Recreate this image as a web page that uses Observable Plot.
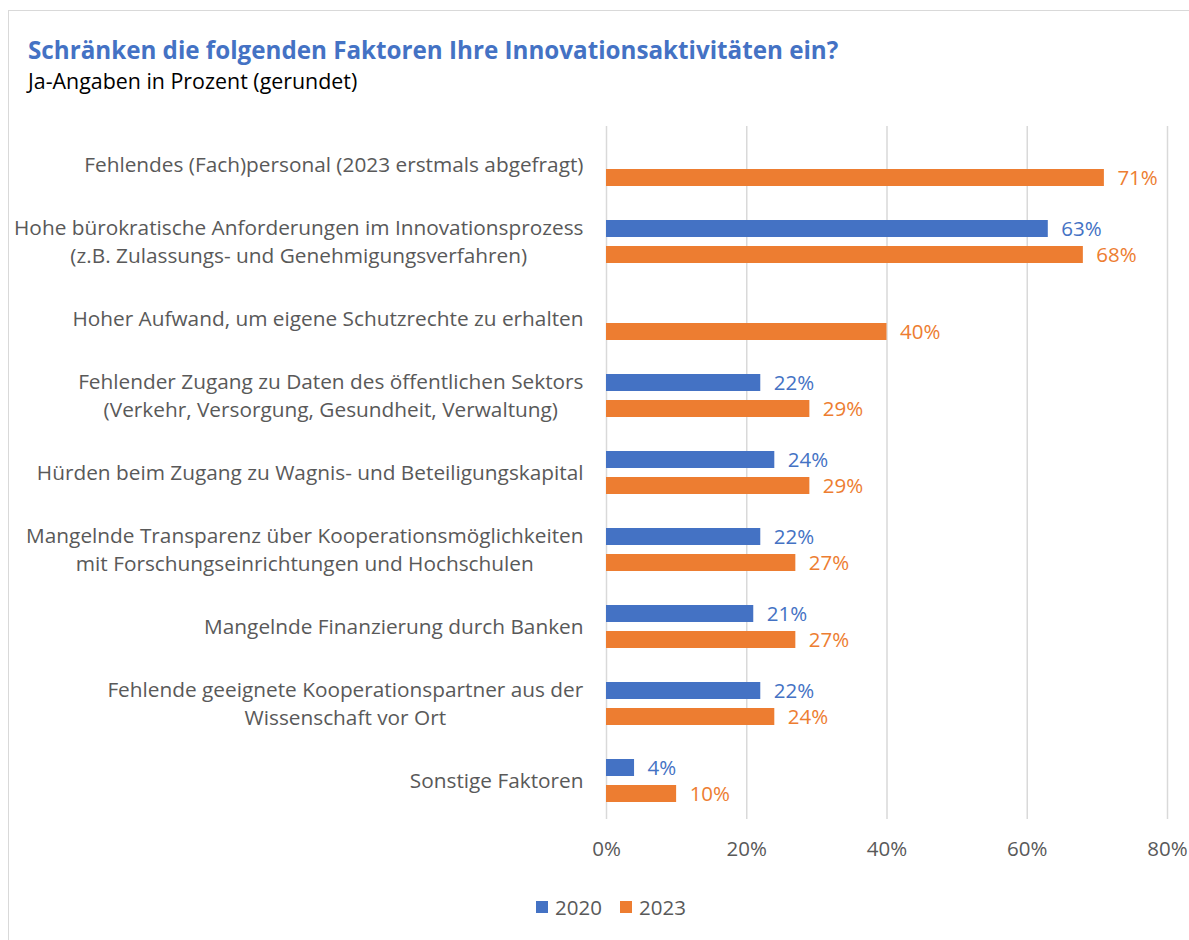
<!DOCTYPE html>
<html>
<head>
<meta charset="utf-8">
<script src="https://cdn.jsdelivr.net/npm/d3@7"></script>
<script src="https://cdn.jsdelivr.net/npm/@observablehq/plot@0.6"></script>
<style>
  html, body { margin: 0; padding: 0; background: #fff; }
  body { width: 1189px; height: 940px; position: relative; overflow: hidden; font-family: "Open Sans", Lato, sans-serif; }
  #frame { position: absolute; left: 8px; top: 10px; width: 1190px; height: 940px; border: 1.5px solid #d9d9d9; box-sizing: border-box; }
  #title { position: absolute; left: 28px; top: 33px; font-size: 24.2px; font-weight: bold; color: #4472C4; white-space: nowrap; }
  #subtitle { position: absolute; left: 28px; top: 66px; font-size: 21.4px; color: #000; white-space: nowrap; }
  #chart { position: absolute; left: 0; top: 110px; }
  #legend { position: absolute; left: 0; width: 1222px; top: 893px; display: flex; justify-content: center; gap: 18px; font-size: 20.5px; color: #595959; }
  #legend span.item { display: inline-flex; align-items: center; gap: 7px; }
  #legend span.sw { display: inline-block; width: 12px; height: 12px; }
</style>
</head>
<body>
<div id="frame"></div>
<div id="title">Schränken die folgenden Faktoren Ihre Innovationsaktivitäten ein?</div>
<div id="subtitle">Ja-Angaben in Prozent (gerundet)</div>
<div id="chart"></div>
<div id="legend"></div>
<script>
const categories = [
  "Fehlendes (Fach)personal (2023 erstmals abgefragt)",
  "Hohe bürokratische Anforderungen im Innovationsprozess\n(z.B. Zulassungs- und Genehmigungsverfahren)",
  "Hoher Aufwand, um eigene Schutzrechte zu erhalten",
  "Fehlender Zugang zu Daten des öffentlichen Sektors\n(Verkehr, Versorgung, Gesundheit, Verwaltung)",
  "Hürden beim Zugang zu Wagnis- und Beteiligungskapital",
  "Mangelnde Transparenz über Kooperationsmöglichkeiten\nmit Forschungseinrichtungen und Hochschulen",
  "Mangelnde Finanzierung durch Banken",
  "Fehlende geeignete Kooperationspartner aus der\nWissenschaft vor Ort",
  "Sonstige Faktoren"
];
const years = ["2020", "2023"];
const values2020 = [null, 63, null, 22, 24, 22, 21, 22, 4];
const values2023 = [71, 68, 40, 29, 29, 27, 27, 24, 10];
const colors = ["#4472C4", "#ED7D31"];
const xTicks = [0, 20, 40, 60, 80];

const data = [];
categories.forEach((c, i) => {
  if (values2020[i] != null) data.push({category: c, year: "2020", value: values2020[i]});
  if (values2023[i] != null) data.push({category: c, year: "2023", value: values2023[i]});
});

const textColor = "#595959";
const fs = 20.5;
const svg = Plot.plot({
  width: 1189,
  height: 754,
  marginLeft: 606,
  marginRight: 22,
  marginTop: 15,
  marginBottom: 45,
  style: {fontFamily: "'Open Sans', Lato, sans-serif", background: "transparent"},
  x: {domain: [0, 80]},
  y: {domain: years, paddingInner: 1/3, paddingOuter: 0.594, axis: null},
  fy: {domain: categories, padding: 0},
  color: {domain: years, range: colors},
  marks: [
    Plot.gridX(xTicks, {stroke: "#d9d9d9", strokeOpacity: 1, strokeWidth: 1.5}),
    Plot.barX(data, {x: "value", y: "year", fy: "category", fill: "year"}),
    Plot.text(data, {x: "value", y: "year", fy: "category", fill: "year", text: d => d.value + "%", textAnchor: "start", dx: 13, fontSize: fs}),
    Plot.axisX(xTicks, {tickSize: 0, tickPadding: 22, fontSize: fs, fill: textColor, tickFormat: d => d + "%", label: null}),
    Plot.axisFy({anchor: "left", tickSize: 0, tickPadding: 23, fontSize: 20.8, fill: textColor, lineHeight: 1.35, dy: -2, label: null})
  ]
});
document.getElementById("chart").append(svg);

// Center multi-line category labels relative to their widest line (right edge stays aligned)
svg.querySelectorAll('g[aria-label^="fy-axis"] text').forEach(t => {
  if (t.querySelectorAll("tspan").length > 1) {
    const w = t.getBBox().width;
    t.setAttribute("text-anchor", "middle");
    t.setAttribute("transform", (t.getAttribute("transform") || "") + ` translate(${-w / 2},0)`);
  }
});

const legend = document.getElementById("legend");
years.forEach((y, i) => {
  const item = document.createElement("span");
  item.className = "item";
  item.innerHTML = `<span class="sw" style="background:${colors[i]}"></span>${y}`;
  legend.append(item);
});
</script>
</body>
</html>
